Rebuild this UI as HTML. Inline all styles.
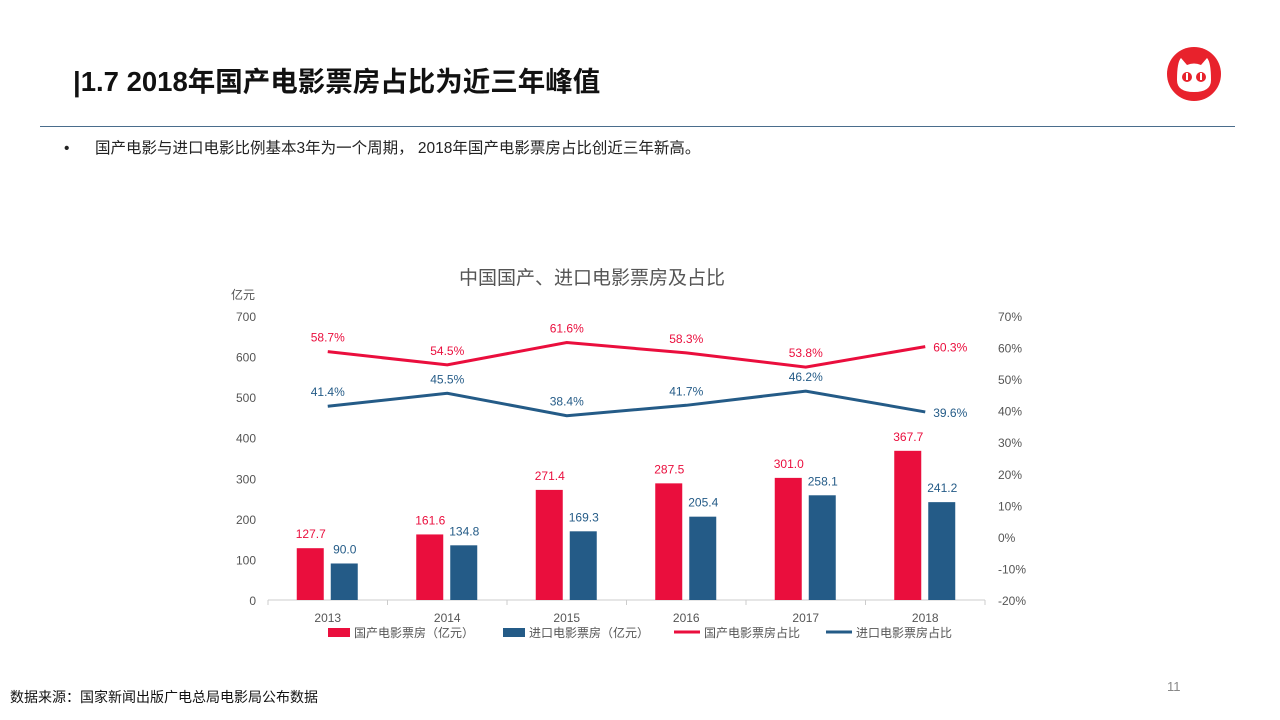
<!DOCTYPE html>
<html><head><meta charset="utf-8">
<style>
body{margin:0;width:1280px;height:720px;background:#fff;position:relative;overflow:hidden;font-family:"Liberation Sans","Noto Sans CJK SC",sans-serif;}
.t{position:absolute;white-space:nowrap;}
</style></head><body>
<div class="t" style="left:73px;top:59px;font-size:27.5px;font-weight:bold;color:#111;">|1.7 2018年国产电影票房占比为近三年峰值</div>
<svg style="position:absolute;left:1166px;top:46px" width="56" height="56" viewBox="0 0 56 56">
<circle cx="28" cy="28" r="27" fill="#e8222c"/>
<path d="M11 34 Q11 16 15 12 L21 19 Q28 16 35 19 L41 12 Q45 16 45 34 Q45 46 28 46 Q11 46 11 34Z" fill="#fff"/>
<circle cx="21" cy="31" r="5" fill="#e8222c"/><circle cx="35" cy="31" r="5" fill="#e8222c"/>
<rect x="20" y="27" width="2" height="7" fill="#fff"/><rect x="34" y="27" width="2" height="7" fill="#fff"/>
</svg>
<div style="position:absolute;left:40px;top:126px;width:1195px;height:1px;background:#4a6d8c;"></div>
<div class="t" style="left:64px;top:136px;font-size:15.5px;color:#222;"><span style="display:inline-block;width:31px">•</span>国产电影与进口电影比例基本3年为一个周期， 2018年国产电影票房占比创近三年新高。</div>
<div class="t" style="left:10px;top:687px;font-size:14px;color:#111;">数据来源：国家新闻出版广电总局电影局公布数据</div>
<div class="t" style="left:1167px;top:679px;font-size:13px;color:#888;">11</div>
<svg id="chart" style="position:absolute;left:0;top:0" width="1280" height="720"></svg>
<script>
const years=["2013","2014","2015","2016","2017","2018"];
const domestic=[127.7,161.6,271.4,287.5,301.0,367.7];
const imported=[90.0,134.8,169.3,205.4,258.1,241.2];
const domShare=[58.7,54.5,61.6,58.3,53.8,60.3];
const impShare=[41.4,45.5,38.4,41.7,46.2,39.6];
const leftTicks=[0,100,200,300,400,500,600,700];
const rightTicks=[-20,-10,0,10,20,30,40,50,60,70];
const svg=document.getElementById('chart');
const NS='http://www.w3.org/2000/svg';
const X0=268,X1=985,Y0=600,Y1=316;
const yL=v=>Y0-(v/700)*(Y0-Y1);
const yR=v=>Y0-((v+20)/90)*(Y0-Y1);
const band=(X1-X0)/years.length;
const xc=i=>X0+band*(i+0.5);
function mk(tag,attrs,txt){const e=document.createElementNS(NS,tag);for(const k in attrs)e.setAttribute(k,attrs[k]);if(txt!==undefined)e.textContent=txt;svg.appendChild(e);return e;}
const RED='#ea0e3d',BLUE='#245b87';
let e=mk('text',{x:592,y:284,'font-size':19,fill:'#555','text-anchor':'middle'},'中国国产、进口电影票房及占比');

e=mk('text',{x:243,y:299,'font-size':12,fill:'#555','text-anchor':'middle'},'亿元');

leftTicks.forEach(v=>{const t=mk('text',{x:256,y:yL(v)+5,'font-size':12,fill:'#555','text-anchor':'end'},String(v));
});
rightTicks.forEach(v=>{const t=mk('text',{x:998,y:yR(v)+5,'font-size':12,fill:'#555'},v+'%');
});
e=mk('line',{x1:X0,x2:X1,y1:Y0,y2:Y0,stroke:'#ccc'});

for(let i=0;i<=years.length;i++){const l=mk('line',{x1:X0+band*i,x2:X0+band*i,y1:Y0,y2:Y0+5,stroke:'#ccc'});
}
const bw=27;
years.forEach((y,i)=>{
 const t=mk('text',{x:xc(i),y:622,'font-size':12,fill:'#555','text-anchor':'middle'},y);
 
 const r=mk('rect',{x:xc(i)-31,y:yL(domestic[i]),width:bw,height:Y0-yL(domestic[i]),fill:RED});
 
 const b=mk('rect',{x:xc(i)+3,y:yL(imported[i]),width:bw,height:Y0-yL(imported[i]),fill:BLUE});
 
 const l1=mk('text',{x:xc(i)-17,y:yL(domestic[i])-10,'font-size':12,fill:RED,'text-anchor':'middle'},domestic[i].toFixed(1));
 
 const l2=mk('text',{x:xc(i)+17,y:yL(imported[i])-10,'font-size':12,fill:BLUE,'text-anchor':'middle'},imported[i].toFixed(1));
 
});
function line(arr,col,name){
 const p=mk('polyline',{points:arr.map((v,i)=>xc(i)+','+yR(v)).join(' '),fill:'none',stroke:col,'stroke-width':3});
 
 arr.forEach((v,i)=>{const t=mk('text',{x:xc(i)+(i==5?25:0),y:yR(v)-(i==5?-5:10),'font-size':12,fill:col,'text-anchor':'middle'},v.toFixed(1)+'%');
 });
}
line(domShare,RED,'line-domestic-share');
line(impShare,BLUE,'line-imported-share');
const leg=[['rect',RED,'国产电影票房（亿元）',328],['rect',BLUE,'进口电影票房（亿元）',503],['line',RED,'国产电影票房占比',674],['line',BLUE,'进口电影票房占比',826]];
leg.forEach(([k,c,txt,x])=>{
 const g=k=='rect'?mk('rect',{x:x,y:628,width:22,height:9,fill:c}):mk('line',{x1:x,x2:x+26,y1:632,y2:632,stroke:c,'stroke-width':3});
 
 const t=mk('text',{x:x+(k=='rect'?26:30),y:637,'font-size':12,fill:'#555'},txt);
 
});
</script>
</body></html>
